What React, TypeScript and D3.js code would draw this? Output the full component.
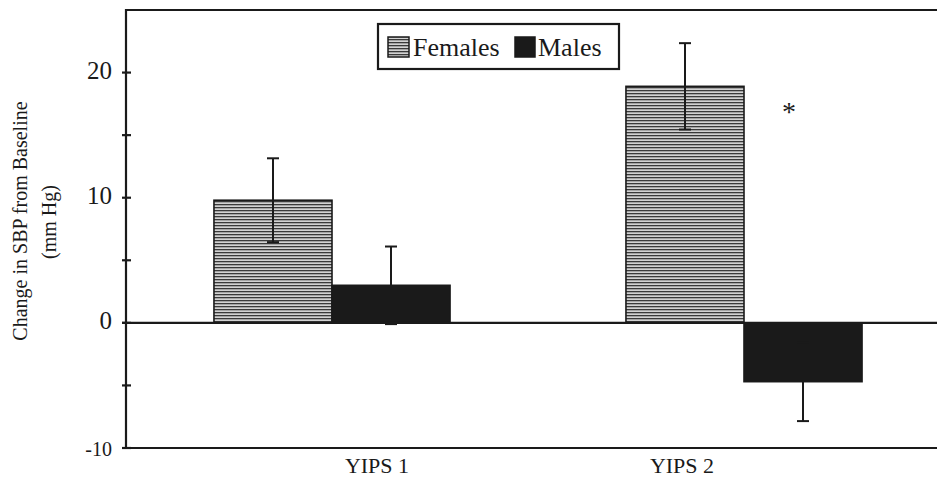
import React from "react";
import * as d3 from "d3";

const categories = ["YIPS 1", "YIPS 2"];
const seriesNames = ["Females", "Males"];
const femaleValues = [9.8, 18.9];
const maleValues = [3.0, -4.7];
const femaleErrors = [3.35, 3.45];
const maleErrors = [3.1, 3.15];
const yTicksMajor = [20, 10, 0, -10];
const yTicksMinor = [15, 5, -5];
const significance = [{ category: "YIPS 2", series: "Males", y: 17.1, mark: "*" }];

const W = 937;
const H = 479;
const FONT = "'Liberation Serif', 'Times New Roman', serif";
const INK = "#1a1a1a";

export default function App() {
  const left = 126;
  const top = 10;
  const bottom = 448;

  const y = d3.scaleLinear().domain([-10, 25]).range([bottom, top]);
  const x0 = d3
    .scaleBand<string>()
    .domain(categories)
    .range([left, 950])
    .paddingInner(0.427)
    .paddingOuter(0.2135);
  const x1 = d3.scaleBand<string>().domain(seriesNames).range([0, x0.bandwidth()]);
  const labelX = d3.scalePoint<string>().domain(categories).range([377, 682]);

  const values: Record<string, number[]> = { Females: femaleValues, Males: maleValues };
  const errors: Record<string, number[]> = { Females: femaleErrors, Males: maleErrors };
  const fills: Record<string, string> = { Females: "url(#hstripe)", Males: INK };

  const bars = categories.flatMap((c, i) =>
    seriesNames.map((s) => ({
      c,
      s,
      v: values[s][i],
      e: errors[s][i],
      x: (x0(c) as number) + (x1(s) as number),
      w: x1.bandwidth(),
    }))
  );

  return (
    <svg width={W} height={H} style={{ position: "absolute", left: 0, top: 0, background: "#fff" }}>
      <defs>
        <pattern id="hstripe" width="4" height="3" patternUnits="userSpaceOnUse">
          <rect width="4" height="3" fill="#d2d2d2" />
          <rect width="4" height="1.3" fill="#3a3a3a" />
        </pattern>
      </defs>
      <rect x={0} y={0} width={W} height={H} fill="#fff" />

      {/* bars */}
      {bars.map((b) => {
        const y0 = y(0);
        const yv = y(b.v);
        return (
          <rect
            key={b.c + b.s}
            x={b.x}
            y={Math.min(y0, yv)}
            width={b.w}
            height={Math.abs(y0 - yv)}
            fill={fills[b.s]}
            stroke={INK}
            strokeWidth={1.6}
          />
        );
      })}

      {/* error bars */}
      {bars.map((b) => {
        const cx = Math.round(b.x + b.w / 2);
        const y1 = y(b.v + b.e);
        const y2 = y(b.v - b.e);
        return (
          <g key={"e" + b.c + b.s} stroke={INK} strokeWidth={2}>
            <line x1={cx} x2={cx} y1={y1} y2={y2} />
            <line x1={cx - 6} x2={cx + 6} y1={y1} y2={y1} />
            <line x1={cx - 6} x2={cx + 6} y1={y2} y2={y2} />
          </g>
        );
      })}

      {/* frame lines */}
      <g stroke={INK} strokeWidth={2.2}>
        <line x1={left} x2={W} y1={top} y2={top} />
        <line x1={left - 4} x2={W} y1={bottom} y2={bottom} />
        <line x1={left - 4} x2={W} y1={y(0)} y2={y(0)} />
        <line x1={left} x2={left} y1={top - 1} y2={bottom + 1} />
        {[...yTicksMajor, ...yTicksMinor].map((t) => (
          <line key={"t" + t} x1={left - 4} x2={left + 5} y1={y(t)} y2={y(t)} />
        ))}
      </g>

      {/* y tick labels */}
      {yTicksMajor.map((t) => (
        <text
          key={"l" + t}
          x={112}
          y={y(t)}
          dy={t < 0 ? "0.4em" : "0.25em"}
          textAnchor="end"
          fontFamily={FONT}
          fontSize={t < 0 ? 20 : 25}
          fill={INK}
        >
          {t}
        </text>
      ))}

      {/* y axis title */}
      <text
        transform={`translate(27, 221) rotate(-90)`}
        textAnchor="middle"
        fontFamily={FONT}
        fontSize={20}
        fill={INK}
      >
        Change in SBP from Baseline
      </text>
      <text
        transform={`translate(56, 222) rotate(-90)`}
        textAnchor="middle"
        fontFamily={FONT}
        fontSize={20}
        fill={INK}
      >
        (mm Hg)
      </text>

      {/* category labels */}
      {categories.map((c) => (
        <text
          key={"c" + c}
          x={labelX(c)}
          y={473}
          textAnchor="middle"
          fontFamily={FONT}
          fontSize={22}
          fill={INK}
        >
          {c}
        </text>
      ))}

      {/* significance marks */}
      {significance.map((m) => (
        <text
          key={"s" + m.category}
          x={(x0(m.category) as number) + (x1(m.series) as number) + x1.bandwidth() / 2 - 14}
          y={y(m.y) + 12}
          textAnchor="middle"
          fontFamily={FONT}
          fontSize={28}
          fill={INK}
        >
          {m.mark}
        </text>
      ))}

      {/* legend */}
      <g>
        <rect x={378} y={24} width={241} height={45} fill="#fff" stroke={INK} strokeWidth={2.2} />
        <rect x={388} y={37} width={21} height={20} fill="url(#hstripe)" stroke={INK} strokeWidth={1.5} />
        <text x={413} y={56} fontFamily={FONT} fontSize={26} fill={INK}>
          {seriesNames[0]}
        </text>
        <rect x={515} y={37} width={20} height={20} fill={INK} stroke={INK} strokeWidth={1.5} />
        <text x={538} y={56} fontFamily={FONT} fontSize={26} fill={INK}>
          {seriesNames[1]}
        </text>
      </g>
    </svg>
  );
}
